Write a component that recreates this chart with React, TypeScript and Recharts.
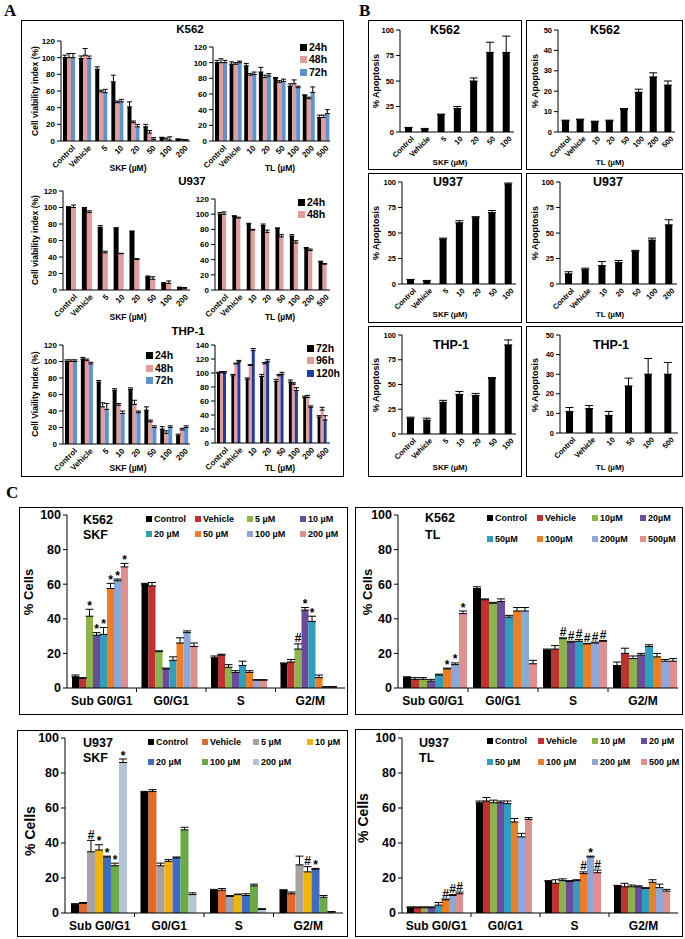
import React from 'react'
import { BarChart, Bar, XAxis, YAxis, ErrorBar } from 'recharts'

const FONT = '"Liberation Sans", Arial, Helvetica, sans-serif'
const SERIF = '"Liberation Serif", "Times New Roman", serif'

// ---------- Panel A : cell viability ----------
const skfDosesA = ['Control', 'Vehicle', '5', '10', '20', '50', '100', '200']
const tlDosesA = ['Control', 'Vehicle', '10', '20', '50', '100', '200', '500']

const k562Skf24 = [100, 99, 86, 71, 41, 17, 4, 2]
const k562Skf48 = [100, 103, 59, 46, 22, 9.5, 2.5, 1.5]
const k562Skf72 = [100, 99, 58, 47, 17, 2, 1, 1]
const k562Skf24Err = [3, 3, 3, 8, 6, 3, 0.5, 0.5]
const k562Skf48Err = [5, 8, 2, 2, 2, 3, 1, 0.5]
const k562Skf72Err = [5, 3, 4, 3, 3, 2, 4, 0.5]

const k562Tl24 = [100, 98, 96, 88, 80, 70, 58, 30]
const k562Tl48 = [100, 98, 84, 81, 75, 73, 54, 30]
const k562Tl72 = [100, 100, 85, 83, 76, 68, 62, 35]
const k562Tl24Err = [3, 3, 3, 6, 1, 3, 1, 3]
const k562Tl48Err = [5, 2, 2, 3, 2, 5, 2, 3]
const k562Tl72Err = [3, 2, 3, 3, 3, 2, 7, 5]

const u937Skf24 = [100, 99, 76, 75, 71, 16, 8, 3]
const u937Skf48 = [100, 94, 45, 44, 37, 13, 8, 2]
const u937Skf24Err = [1, 1, 2, 0.5, 0.5, 1, 1, 0.5]
const u937Skf48Err = [3, 2, 2, 0.5, 1, 3, 3, 1]

const u937Tl24 = [100, 97, 87, 85, 81, 71, 55, 37]
const u937Tl48 = [100, 95, 79, 76, 70, 62, 52, 34]
const u937Tl24Err = [2, 1, 1, 2, 1, 2, 1, 1]
const u937Tl48Err = [3, 1, 1, 3, 3, 3, 2, 1]

const thpSkf24 = [100, 103, 75, 65, 66, 41, 18, 10]
const thpSkf48 = [100, 101, 45, 47, 48, 27, 13, 17]
const thpSkf72 = [100, 97, 42, 37, 38, 20, 20, 20]
const thpSkf24Err = [2, 2, 2, 2, 2, 4, 3, 2]
const thpSkf48Err = [2, 2, 5, 2, 5, 2, 3, 2]
const thpSkf72Err = [2, 2, 7, 3, 2, 2, 2, 2]

const thpTl72 = [100, 96, 91, 95, 88, 87, 65, 37]
const thpTl96 = [101, 113, 111, 113, 96, 84, 65, 47]
const thpTl120 = [100, 116, 132, 116, 98, 75, 51, 33]
const thpTl72Err = [1, 2, 2, 3, 3, 3, 2, 2]
const thpTl96Err = [1, 1, 1, 2, 2, 2, 3, 4]
const thpTl120Err = [2, 2, 3, 3, 3, 4, 2, 6]

// ---------- Panel B : % apoptosis ----------
const skfDosesB = ['Control', 'Vehicle', '5', '10', '20', '50', '100']
const k562TlDosesB = ['Control', 'Vehicle', '10', '20', '50', '100', '200', '500']
const u937TlDosesB = ['Control', 'Vehicle', '10', '20', '50', '100', '200']
const thpTlDosesB = ['Control', 'Vehicle', '10', '50', '100', '500']

const k562SkfApop = [4, 3, 17, 23, 50, 78, 78]
const k562SkfApopErr = [0.5, 0.5, 0.5, 2, 3, 10, 16]
const k562TlApop = [5.5, 6, 5, 5.5, 11, 19.5, 27, 23]
const k562TlApopErr = [0.3, 0.3, 0.3, 0.3, 0.5, 1.5, 2, 2]
const u937SkfApop = [4, 3, 44, 60, 65, 70, 98]
const u937SkfApopErr = [0.5, 0.5, 1, 2, 1, 2, 1]
const u937TlApop = [10, 14, 18, 21, 32, 43, 58]
const u937TlApopErr = [2, 1.5, 4, 2, 1, 2, 5]
const thpSkfApop = [16, 14, 32, 40, 39, 56, 90]
const thpSkfApopErr = [1, 2, 2, 3, 2, 1, 5]
const thpTlApop = [11, 12.5, 9, 24, 30, 30]
const thpTlApopErr = [2, 1.5, 2, 4, 8, 6]

// ---------- Panel C : cell cycle ----------
const phases = ['Sub G0/G1', 'G0/G1', 'S', 'G2/M']

const k562SkfDoses = ['Control', 'Vehicle', '5 µM', '10 µM', '20 µM', '50 µM', '100 µM', '200 µM']
const k562SkfPct = [
  [6.5, 60, 17.5, 14],
  [5.5, 59, 19, 15],
  [41.5, 21, 12, 22.5],
  [30.5, 11, 9, 45],
  [31, 16, 13, 38.5],
  [57.5, 26, 9, 6],
  [62, 32, 4.5, 0.5],
  [70, 24, 4.5, 0.5],
]
const k562SkfPctErr = [
  [1, 0.5, 1, 0.5],
  [0.5, 2, 0.5, 1.5],
  [4, 0.5, 1.5, 3],
  [1.5, 0.5, 1, 1.5],
  [4, 2, 2.5, 3],
  [3, 3, 1, 1.5],
  [1, 1, 0.3, 0.3],
  [2, 2, 0.3, 0.3],
]
const k562SkfMarks = [
  ['', '', '', ''],
  ['', '', '', ''],
  ['*', '', '', '#'],
  ['*', '', '', '*'],
  ['*', '', '', '*'],
  ['*', '', '', ''],
  ['*', '', '', ''],
  ['*', '', '', ''],
]

const k562TlDoses = ['Control', 'Vehicle', '10µM', '20µM', '50µM', '100µM', '200µM', '500µM']
const k562TlPct = [
  [6, 57.5, 22, 13],
  [5, 51, 22.5, 20],
  [5, 49, 28.5, 17],
  [4, 50, 26.5, 19],
  [7.5, 41, 27, 24],
  [11, 44.5, 25.5, 18],
  [13.5, 44.5, 26, 15.5],
  [43, 14, 27, 15.5],
]
const k562TlPctErr = [
  [0.5, 1, 0.5, 2],
  [1, 0.5, 2, 3],
  [1, 0.5, 0.5, 1.5],
  [1, 1.5, 0.5, 1],
  [0.5, 1, 1, 1],
  [0.5, 2, 0.3, 2],
  [1, 2, 0.5, 1],
  [1.5, 2, 0.5, 1.5],
]
const k562TlMarks = [
  ['', '', '', ''],
  ['', '', '', ''],
  ['', '', '#', ''],
  ['', '', '#', ''],
  ['', '', '#', ''],
  ['*', '', '#', ''],
  ['*', '', '#', ''],
  ['*', '', '#', ''],
]

const u937SkfDoses = ['Control', 'Vehicle', '5 µM', '10 µM', '20 µM', '100 µM', '200 µM']
const u937SkfPct = [
  [5, 69, 13, 13],
  [5.5, 69.5, 13, 11],
  [35, 27, 9.5, 27.5],
  [36, 29.5, 10.5, 23.5],
  [32, 31.5, 10, 25],
  [27, 47.5, 15.5, 9],
  [86, 10.5, 2, 0.5],
]
const u937SkfPctErr = [
  [0.3, 0.5, 0.5, 0.3],
  [0.5, 1, 1, 1],
  [6.5, 1.5, 0.5, 5],
  [3, 1, 0.3, 3],
  [0.5, 0.5, 1, 0.5],
  [1.5, 1.5, 1, 1],
  [2, 1, 0.5, 0.3],
]
const u937SkfMarks = [
  ['', '', '', ''],
  ['', '', '', ''],
  ['#', '', '', ''],
  ['*', '', '', '#'],
  ['*', '', '', '*'],
  ['*', '', '', ''],
  ['*', '', '', ''],
]

const u937TlDoses = ['Control', 'Vehicle', '10 µM', '20 µM', '50 µM', '100 µM', '200 µM', '500 µM']
const u937TlPct = [
  [3, 63, 18, 15.5],
  [3, 64, 17, 15],
  [3, 63, 18.5, 15],
  [3, 63, 18, 15],
  [4.5, 62.5, 18.5, 14],
  [7.5, 52, 22.5, 17.5],
  [10, 43.5, 32, 14.5],
  [11, 53.5, 23, 12.5],
]
const u937TlPctErr = [
  [0.5, 1, 0.5, 0.3],
  [0.5, 2, 2, 2],
  [0.5, 1.5, 1, 1],
  [0.5, 1, 0.5, 0.5],
  [1.5, 1.5, 0.5, 0.5],
  [0.5, 2, 1, 1.5],
  [0.5, 2, 0.5, 2],
  [1, 1, 1.5, 1],
]
const u937TlMarks = [
  ['', '', '', ''],
  ['', '', '', ''],
  ['', '', '', ''],
  ['', '', '', ''],
  ['', '', '', ''],
  ['#', '', '#', ''],
  ['#', '', '*', ''],
  ['#', '', '#', ''],
]

// colours
const PINK = '#e39c99'
const BLUE = '#5b93d3'
const NAVY = '#1c3ca8'
const doseColors = ['#000000', '#c0312f', '#8db44a', '#6b4c9a', '#2f9fbe', '#ef7e22', '#8ca8da', '#df8f8d']
const u937SkfColors = ['#000000', '#e3692b', '#a3a3a3', '#f3b40a', '#3d6cc3', '#6bab46', '#b6c4da']

type SeriesDef = { name: string; color: string; values: number[]; errors: number[]; marks?: string[] }

const toSeries = (names: string[], colors: string[], vals: number[][], errs: number[][], marks?: string[][]): SeriesDef[] =>
  names.map((n, i) => ({ name: n, color: colors[i], values: vals[i], errors: errs[i], marks: marks ? marks[i] : undefined }))

// rotated dose labels (panels A and B)
const rotTick = (size: number) => (props: any) => {
  const { x, y, payload } = props
  return (
    <g transform={`translate(${x + 2},${y + 1})`}>
      <text transform="rotate(-45)" textAnchor="end" dy={size * 0.8} fontSize={size} fontWeight="bold" fontFamily={FONT} fill="#000">
        {payload.value}
      </text>
    </g>
  )
}

// phase labels with small separators between groups (panel C)
const catTick = (size: number, bw: number, n: number) => (props: any) => {
  const { x, y, payload, index } = props
  return (
    <g>
      <text x={x} y={y} dy={size * 0.72} textAnchor="middle" fontSize={size} fontWeight="bold" fontFamily={FONT} fill="#000">
        {payload.value}
      </text>
      {index < n - 1 ? <line x1={x + bw / 2} x2={x + bw / 2} y1={y - 8} y2={y - 4} stroke="#000" /> : null}
    </g>
  )
}

const barShape = (j: number, color: string, markFont: number) => (props: any) => {
  const { x, y, width, height, payload } = props
  const v = payload['v' + j]
  const e = payload['e' + j][1]
  const m = payload['m' + j]
  const errPx = v > 0 ? (e * height) / v : 0
  return (
    <g>
      <rect x={x} y={y} width={width} height={Math.max(height, 0)} fill={color} />
      {m ? (
        <text x={x + width / 2} y={y - errPx + (m === '*' ? 0.5 : -1.5)} textAnchor="middle" fontSize={markFont} fontWeight="bold" fontFamily={FONT} fill="#000">
          {m}
        </text>
      ) : null}
    </g>
  )
}

interface GroupChartProps {
  categories: string[]
  series: SeriesDef[]
  axisX: number
  topY: number
  zeroY: number
  rightX: number
  yMax: number
  yTicks: number[]
  xAxisHeight: number
  rotate?: boolean
  xFont: number
  yFont: number
  gap?: number
  barSize?: number
  errW: number
  markFont?: number
}

function GroupChart(p: GroupChartProps) {
  const yW = 40
  const mt = 12
  const left = p.axisX - yW
  const width = p.rightX - left + 2
  const height = p.zeroY - p.topY + mt + p.xAxisHeight
  const bw = (p.rightX - p.axisX) / p.categories.length
  const data = p.categories.map((c, i) => {
    const row: Record<string, any> = { cat: c }
    p.series.forEach((s, j) => {
      row['v' + j] = s.values[i]
      row['e' + j] = [0, s.errors[i]]
      row['m' + j] = s.marks ? s.marks[i] : ''
    })
    return row
  })
  return (
    <div style={{ position: 'absolute', left, top: p.topY - mt }}>
      <BarChart
        width={width}
        height={height}
        data={data}
        margin={{ top: mt, right: 2, bottom: 0, left: 0 }}
        barGap={0}
        barCategoryGap={p.gap ?? '20%'}
        barSize={p.barSize}
      >
        <XAxis
          dataKey="cat"
          interval={0}
          height={p.xAxisHeight}
          axisLine={{ stroke: '#000' }}
          tickLine={false}
          tickSize={p.rotate ? 0 : 6}
          tick={p.rotate ? rotTick(p.xFont) : catTick(p.xFont, bw, p.categories.length)}
        />
        <YAxis
          type="number"
          domain={[0, p.yMax]}
          ticks={p.yTicks}
          interval={0}
          width={yW}
          allowDataOverflow
          axisLine={{ stroke: '#000' }}
          tickLine={{ stroke: '#000' }}
          tickSize={4}
          tick={{ fill: '#000', fontSize: p.yFont, fontWeight: 'bold', fontFamily: FONT }}
        />
        {p.series.map((s, j) => (
          <Bar key={j} dataKey={'v' + j} fill={s.color} isAnimationActive={false} shape={barShape(j, s.color, p.markFont ?? 11)}>
            <ErrorBar dataKey={'e' + j} width={p.errW} stroke="#000" strokeWidth={1} direction="y" />
          </Bar>
        ))}
      </BarChart>
    </div>
  )
}

function Txt({ x, y, size, children, rotate = 0, anchor = 'middle', family = FONT }: any) {
  const tx = anchor === 'middle' ? '-50%' : anchor === 'start' ? '0' : '-100%'
  return (
    <div
      style={{
        position: 'absolute',
        left: x,
        top: y,
        transform: `translate(${tx},-50%) rotate(${rotate}deg)`,
        fontSize: size,
        fontWeight: 700,
        whiteSpace: 'nowrap',
        fontFamily: family,
        lineHeight: 1,
        color: '#000',
      }}
    >
      {children}
    </div>
  )
}

function Box({ x, y, w, h }: { x: number; y: number; w: number; h: number }) {
  return <div style={{ position: 'absolute', left: x, top: y, width: w, height: h, border: '1.5px solid #000', boxSizing: 'border-box' }} />
}

function LegendItem({ x, y, color, label, sq, size }: any) {
  return (
    <>
      <div style={{ position: 'absolute', left: x, top: y - sq / 2, width: sq, height: sq, background: color }} />
      <Txt x={x + sq + 2} y={y} size={size} anchor="start">
        {label}
      </Txt>
    </>
  )
}

function GridLegend({ names, colors, cols, rows, size }: any) {
  return (
    <>
      {names.map((n: string, i: number) => (
        <LegendItem key={n} x={cols[i % 4]} y={rows[Math.floor(i / 4)]} color={colors[i]} label={n} sq={6} size={size} />
      ))}
    </>
  )
}

const ticks120 = [0, 20, 40, 60, 80, 100, 120]
const ticks140 = [0, 20, 40, 60, 80, 100, 120, 140]
const ticks100q = [0, 25, 50, 75, 100]
const ticks50 = [0, 10, 20, 30, 40, 50]
const ticks100 = [0, 20, 40, 60, 80, 100]

export default function App() {
  const a = { xAxisHeight: 30, rotate: true, xFont: 8, yFont: 8, errW: 2.5, gap: 2 }
  const b = { xAxisHeight: 30, rotate: true, xFont: 7.5, yFont: 7.5, errW: 4, barSize: 7 }
  const c = { xAxisHeight: 25, xFont: 12, yFont: 12.5, errW: 4, markFont: 12 }
  return (
    <div style={{ position: 'absolute', left: 0, top: 0, width: 685, height: 939, background: '#fff', overflow: 'hidden' }}>
      {/* ---------- A ---------- */}
      <Txt x={4} y={10} size={17} anchor="start" family={SERIF}>A</Txt>
      <Box x={21} y={20} w={323} h={457} />

      <Txt x={190} y={30} size={11.5}>K562</Txt>
      <Txt x={35} y={91} size={8.5} rotate={-90}>Cell viability index (%)</Txt>
      <GroupChart {...a} categories={skfDosesA} axisX={61} topY={41} zeroY={141} rightX={190} yMax={120} yTicks={ticks120}
        series={[
          { name: '24h', color: '#000', values: k562Skf24, errors: k562Skf24Err },
          { name: '48h', color: PINK, values: k562Skf48, errors: k562Skf48Err },
          { name: '72h', color: BLUE, values: k562Skf72, errors: k562Skf72Err },
        ]} />
      <GroupChart {...a} categories={tlDosesA} axisX={213} topY={47} zeroY={141} rightX={330} yMax={120} yTicks={ticks120}
        series={[
          { name: '24h', color: '#000', values: k562Tl24, errors: k562Tl24Err },
          { name: '48h', color: PINK, values: k562Tl48, errors: k562Tl48Err },
          { name: '72h', color: BLUE, values: k562Tl72, errors: k562Tl72Err },
        ]} />
      <LegendItem x={300} y={47} color="#000" label="24h" sq={7} size={10.5} />
      <LegendItem x={300} y={59} color={PINK} label="48h" sq={7} size={10.5} />
      <LegendItem x={300} y={72} color={BLUE} label="72h" sq={7} size={10.5} />
      <Txt x={128} y={168} size={8.5}>SKF (µM)</Txt>
      <Txt x={280} y={168} size={8.5}>TL (µM)</Txt>

      <Txt x={192} y={182} size={11.5}>U937</Txt>
      <Txt x={35} y={240} size={8.5} rotate={-90}>Cell viability index (%)</Txt>
      <GroupChart {...a} gap={3} categories={skfDosesA} axisX={63} topY={191} zeroY={290} rightX={190} yMax={120} yTicks={ticks120}
        series={[
          { name: '24h', color: '#000', values: u937Skf24, errors: u937Skf24Err },
          { name: '48h', color: PINK, values: u937Skf48, errors: u937Skf48Err },
        ]} />
      <GroupChart {...a} gap={3} categories={tlDosesA} axisX={215} topY={199} zeroY={290} rightX={330} yMax={120} yTicks={ticks120}
        series={[
          { name: '24h', color: '#000', values: u937Tl24, errors: u937Tl24Err },
          { name: '48h', color: PINK, values: u937Tl48, errors: u937Tl48Err },
        ]} />
      <LegendItem x={298} y={202} color="#000" label="24h" sq={7} size={10.5} />
      <LegendItem x={298} y={214} color={PINK} label="48h" sq={7} size={10.5} />
      <Txt x={128} y={317} size={8.5}>SKF (µM)</Txt>
      <Txt x={280} y={317} size={8.5}>TL (µM)</Txt>

      <Txt x={188} y={332} size={11.5}>THP-1</Txt>
      <Txt x={35} y={394} size={8.5} rotate={-90}>Cell Viaility Index (%)</Txt>
      <GroupChart {...a} categories={skfDosesA} axisX={63} topY={345} zeroY={444} rightX={190} yMax={120} yTicks={ticks120}
        series={[
          { name: '24h', color: '#000', values: thpSkf24, errors: thpSkf24Err },
          { name: '48h', color: PINK, values: thpSkf48, errors: thpSkf48Err },
          { name: '72h', color: BLUE, values: thpSkf72, errors: thpSkf72Err },
        ]} />
      <GroupChart {...a} categories={tlDosesA} axisX={215} topY={345} zeroY={443} rightX={330} yMax={140} yTicks={ticks140}
        series={[
          { name: '72h', color: '#000', values: thpTl72, errors: thpTl72Err },
          { name: '96h', color: PINK, values: thpTl96, errors: thpTl96Err },
          { name: '120h', color: NAVY, values: thpTl120, errors: thpTl120Err },
        ]} />
      <LegendItem x={146} y={355} color="#000" label="24h" sq={7} size={10.5} />
      <LegendItem x={146} y={368} color={PINK} label="48h" sq={7} size={10.5} />
      <LegendItem x={146} y={380} color={BLUE} label="72h" sq={7} size={10.5} />
      <LegendItem x={307} y={348} color="#000" label="72h" sq={7} size={10.5} />
      <LegendItem x={307} y={360} color={PINK} label="96h" sq={7} size={10.5} />
      <LegendItem x={307} y={373} color={NAVY} label="120h" sq={7} size={10.5} />
      <Txt x={128} y={468} size={8.5}>SKF (µM)</Txt>
      <Txt x={280} y={468} size={8.5}>TL (µM)</Txt>

      {/* ---------- B ---------- */}
      <Txt x={359} y={10} size={17} anchor="start" family={SERIF}>B</Txt>
      <Box x={368} y={20} w={154} h={150} />
      <Box x={526} y={20} w={157} h={150} />
      <Box x={368} y={173} w={154} h={150} />
      <Box x={526} y={173} w={157} h={150} />
      <Box x={368} y={326} w={154} h={151} />
      <Box x={526} y={326} w={157} h={151} />

      <Txt x={445} y={30} size={12.5}>K562</Txt>
      <Txt x={605} y={30} size={12.5}>K562</Txt>
      <Txt x={376} y={81} size={9} rotate={-90}>% Apoptosis</Txt>
      <Txt x={535} y={81} size={9} rotate={-90}>% Apoptosis</Txt>
      <GroupChart {...b} categories={skfDosesB} axisX={400} topY={30} zeroY={132} rightX={514} yMax={100} yTicks={ticks100q}
        series={[{ name: 'apoptosis', color: '#000', values: k562SkfApop, errors: k562SkfApopErr }]} />
      <GroupChart {...b} categories={k562TlDosesB} axisX={558} topY={30} zeroY={132} rightX={675} yMax={50} yTicks={ticks50}
        series={[{ name: 'apoptosis', color: '#000', values: k562TlApop, errors: k562TlApopErr }]} />
      <Txt x={450} y={163} size={8}>SKF (µM)</Txt>
      <Txt x={610} y={163} size={8}>TL (µM)</Txt>

      <Txt x={448} y={182} size={12.5}>U937</Txt>
      <Txt x={608} y={182} size={12.5}>U937</Txt>
      <Txt x={376} y={233} size={9} rotate={-90}>% Apoptosis</Txt>
      <Txt x={535} y={233} size={9} rotate={-90}>% Apoptosis</Txt>
      <GroupChart {...b} categories={skfDosesB} axisX={402} topY={182} zeroY={284} rightX={516} yMax={100} yTicks={ticks100q}
        series={[{ name: 'apoptosis', color: '#000', values: u937SkfApop, errors: u937SkfApopErr }]} />
      <GroupChart {...b} categories={u937TlDosesB} axisX={560} topY={182} zeroY={284} rightX={677} yMax={100} yTicks={ticks100q}
        series={[{ name: 'apoptosis', color: '#000', values: u937TlApop, errors: u937TlApopErr }]} />
      <Txt x={450} y={315} size={8}>SKF (µM)</Txt>
      <Txt x={610} y={315} size={8}>TL (µM)</Txt>

      <Txt x={451} y={345} size={12.5}>THP-1</Txt>
      <Txt x={611} y={345} size={12.5}>THP-1</Txt>
      <Txt x={376} y={385} size={9} rotate={-90}>% Apoptosis</Txt>
      <Txt x={535} y={385} size={9} rotate={-90}>% Apoptosis</Txt>
      <GroupChart {...b} categories={skfDosesB} axisX={402} topY={335} zeroY={434} rightX={516} yMax={100} yTicks={ticks100q}
        series={[{ name: 'apoptosis', color: '#000', values: thpSkfApop, errors: thpSkfApopErr }]} />
      <GroupChart {...b} categories={thpTlDosesB} axisX={560} topY={335} zeroY={433} rightX={678} yMax={50} yTicks={ticks50}
        series={[{ name: 'apoptosis', color: '#000', values: thpTlApop, errors: thpTlApopErr }]} />
      <Txt x={450} y={468} size={8}>SKF (µM)</Txt>
      <Txt x={610} y={468} size={8}>TL (µM)</Txt>

      {/* ---------- C ---------- */}
      <Txt x={6} y={492} size={17} anchor="start" family={SERIF}>C</Txt>
      <Box x={19} y={507} w={329} h={208} />
      <Box x={355} y={507} w={328} h={208} />
      <Box x={17} y={730} w={331} h={207} />
      <Box x={355} y={729} w={328} h={208} />

      <Txt x={28} y={592} size={13} rotate={-90}>% Cells</Txt>
      <GroupChart {...c} gap={5} categories={phases} axisX={67} topY={515} zeroY={688} rightX={345} yMax={100} yTicks={ticks100}
        series={toSeries(k562SkfDoses, doseColors, k562SkfPct, k562SkfPctErr, k562SkfMarks)} />
      <Txt x={83} y={520} size={12.5} anchor="start">K562</Txt>
      <Txt x={83} y={535} size={12.5} anchor="start">SKF</Txt>
      <GridLegend names={k562SkfDoses} colors={doseColors} cols={[146, 195, 247, 300]} rows={[519, 534]} size={9} />

      <Txt x={367} y={592} size={13} rotate={-90}>% Cells</Txt>
      <GroupChart {...c} gap={5} categories={phases} axisX={398} topY={515} zeroY={688} rightX={678} yMax={100} yTicks={ticks100}
        series={toSeries(k562TlDoses, doseColors, k562TlPct, k562TlPctErr, k562TlMarks)} />
      <Txt x={425} y={518} size={12.5} anchor="start">K562</Txt>
      <Txt x={425} y={535} size={12.5} anchor="start">TL</Txt>
      <GridLegend names={k562TlDoses} colors={doseColors} cols={[487, 537, 592, 640]} rows={[518, 539]} size={9} />

      <Txt x={30} y={831} size={14} rotate={-90}>% Cells</Txt>
      <GroupChart {...c} gap={6} categories={phases} axisX={65} topY={738} zeroY={913} rightX={343} yMax={100} yTicks={ticks100}
        series={toSeries(u937SkfDoses, u937SkfColors, u937SkfPct, u937SkfPctErr, u937SkfMarks)} />
      <Txt x={83} y={743} size={12.5} anchor="start">U937</Txt>
      <Txt x={83} y={758} size={12.5} anchor="start">SKF</Txt>
      <GridLegend names={u937SkfDoses} colors={u937SkfColors} cols={[148, 202, 253, 307]} rows={[742, 762]} size={9} />

      <Txt x={363} y={818} size={14} rotate={-90}>% Cells</Txt>
      <GroupChart {...c} gap={5} categories={phases} axisX={402} topY={738} zeroY={913} rightX={678} yMax={100} yTicks={ticks100}
        series={toSeries(u937TlDoses, doseColors, u937TlPct, u937TlPctErr, u937TlMarks)} />
      <Txt x={419} y={743} size={12.5} anchor="start">U937</Txt>
      <Txt x={419} y={758} size={12.5} anchor="start">TL</Txt>
      <GridLegend names={u937TlDoses} colors={doseColors} cols={[487, 538, 592, 641]} rows={[741, 762]} size={9} />
    </div>
  )
}
